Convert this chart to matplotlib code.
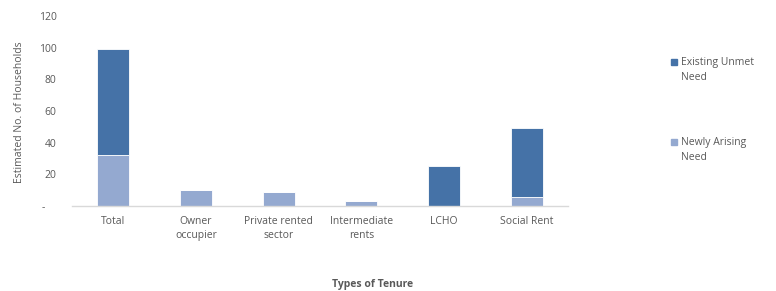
import matplotlib.pyplot as plt
from matplotlib.patches import Rectangle
import numpy as np

categories = ['Total', 'Owner\noccupier', 'Private rented\nsector', 'Intermediate\nrents', 'LCHO', 'Social Rent']
newly_arising = [32, 10, 9, 3, 0, 6]
existing_unmet = [67, 0, 0, 0, 25, 43]
y_ticks = [0, 20, 40, 60, 80, 100, 120]
y_tick_labels = ['-    ', '20', '40', '60', '80', '100', '120']
series_names = ['Existing Unmet\nNeed', 'Newly Arising\nNeed']

dark = '#4572a7'
light = '#94a9d0'
grey = '#595959'
fs = 7.5

plt.rcParams['font.family'] = ['Open Sans', 'DejaVu Sans']

fig = plt.figure(figsize=(7.76, 2.91), dpi=100)
ax = fig.add_axes([72 / 776, 1 - 206 / 291, 496 / 776, 190 / 291])

x = np.arange(len(categories))
ax.bar(x, newly_arising, width=0.39, color=light, edgecolor='white', linewidth=0.6)
ax.bar(x, existing_unmet, width=0.39, bottom=newly_arising, color=dark, edgecolor='white', linewidth=0.6)

ax.set_xlim(-0.5, len(categories) - 0.5)
ax.set_ylim(0, 120)
ax.set_yticks(y_ticks)
ax.set_yticklabels(y_tick_labels)
ax.set_xticks(x)
ax.set_xticklabels(categories, linespacing=1.45)
ax.tick_params(length=0, labelsize=fs, labelcolor=grey)
ax.tick_params(axis='x', pad=7)
ax.tick_params(axis='y', pad=11)
for s in ['top', 'right', 'left']:
    ax.spines[s].set_visible(False)
ax.spines['bottom'].set_color('#d9d9d9')
ax.spines['bottom'].set_linewidth(1)

fig.text(20 / 776, 1 - 112 / 291, 'Estimated No. of Households', rotation=90, ha='center', va='center',
         fontsize=fs, color=grey)
fig.text(373 / 776, 1 - 284 / 291, 'Types of Tenure', ha='center', va='center',
         fontsize=fs, color=grey, fontweight='bold')

# legend by hand so the square sits next to the first text line
for name, col, ytop in zip(series_names, [dark, light], [62, 142]):
    fig.patches.append(Rectangle((671 / 776, 1 - (ytop + 3) / 291), 6 / 776, 6 / 291,
                                 transform=fig.transFigure, color=col))
    fig.text(681 / 776, 1 - (ytop - 5) / 291, name, ha='left', va='top', fontsize=fs, color=grey,
             linespacing=1.55)

fig.savefig('out.png', dpi=100)
